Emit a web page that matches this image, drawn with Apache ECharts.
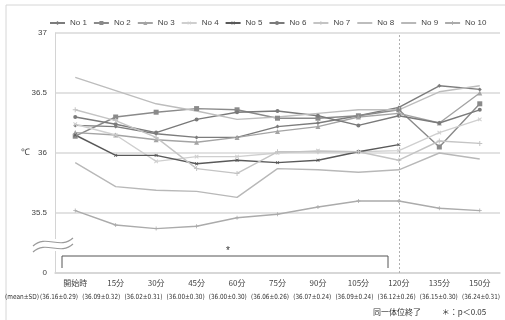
<!DOCTYPE html>
<html>
<head>
<meta charset="utf-8">
<script src="https://cdn.jsdelivr.net/npm/echarts@6/dist/echarts.min.js"></script>
<style>
  html, body { margin: 0; padding: 0; background: #fff; }
  #chart { width: 505px; height: 320px; }
</style>
</head>
<body>
<div id="chart"></div>
<script>
// time points
const categories = ['開始時', '15分', '30分', '45分', '60分', '75分', '90分', '105分', '120分', '135分', '150分']
const meanSD = ['(36.16±0.29)', '(36.09±0.32)', '(36.02±0.31)', '(36.00±0.30)', '(36.00±0.30)', '(36.06±0.26)',
  '(36.07±0.24)', '(36.09±0.24)', '(36.12±0.26)', '(36.15±0.30)', '(36.24±0.31)']

// body temperature per subject
const no1 = [36.23, 36.22, 36.16, 36.13, 36.13, 36.22, 36.25, 36.31, 36.38, 36.56, 36.53]
const no2 = [36.14, 36.30, 36.34, 36.37, 36.36, 36.29, 36.29, 36.31, 36.36, 36.05, 36.41]
const no3 = [36.17, 36.15, 36.11, 36.09, 36.13, 36.18, 36.22, 36.30, 36.33, 36.25, 36.50]
const no4 = [36.24, 36.15, 35.93, 35.97, 35.97, 36.00, 36.02, 36.01, 36.02, 36.17, 36.28]
const no5 = [36.15, 35.98, 35.98, 35.91, 35.94, 35.92, 35.94, 36.01, 36.07, null, null]
const no6 = [36.30, 36.24, 36.17, 36.28, 36.34, 36.35, 36.31, 36.23, 36.31, 36.25, 36.36]
const no7 = [36.36, 36.27, 36.13, 35.87, 35.83, 36.01, 36.01, 36.01, 35.94, 36.10, 36.08]
const no8 = [36.63, 36.52, 36.41, 36.35, 36.28, 36.30, 36.33, 36.36, 36.36, 36.51, 36.56]
const no9 = [35.92, 35.72, 35.69, 35.68, 35.63, 35.87, 35.86, 35.84, 35.86, 36.00, 35.95]
const no10 = [35.52, 35.40, 35.37, 35.39, 35.46, 35.49, 35.55, 35.60, 35.60, 35.54, 35.52]

const yTicks = [35, 35.5, 36, 36.5, 37]

const plus = 'path://M4,0h2v10h-2z M0,4h10v2h-10z'

const seriesDefs = [
  { name: 'No 1', data: no1, color: '#7c7c7c', symbol: 'diamond', size: 4 },
  { name: 'No 2', data: no2, color: '#8a8a8a', symbol: 'rect', size: 5 },
  { name: 'No 3', data: no3, color: '#a4a4a4', symbol: 'triangle', size: 5 },
  { name: 'No 4', data: no4, color: '#cfcfcf', symbol: plus, size: 5, rotate: 45 },
  { name: 'No 5', data: no5, color: '#595959', symbol: plus, size: 4, rotate: 45 },
  { name: 'No 6', data: no6, color: '#7a7a7a', symbol: 'circle', size: 4 },
  { name: 'No 7', data: no7, color: '#c4c4c4', symbol: plus, size: 5 },
  { name: 'No 8', data: no8, color: '#bdbdbd', symbol: 'none', size: 0 },
  { name: 'No 9', data: no9, color: '#b8b8b8', symbol: 'none', size: 0 },
  { name: 'No 10', data: no10, color: '#ababab', symbol: plus, size: 4 }
]

const chart = echarts.init(document.getElementById('chart'), null, { renderer: 'canvas' })

const series = seriesDefs.map((s, i) => {
  const item = {
    name: s.name,
    type: 'line',
    data: s.data,
    symbol: s.symbol,
    symbolSize: s.size,
    symbolRotate: s.rotate || 0,
    showSymbol: s.symbol !== 'none',
    connectNulls: false,
    animation: false,
    lineStyle: { color: s.color, width: 1.4 },
    itemStyle: { color: s.color }
  }
  if (i === 0) {
    item.markLine = {
      silent: true,
      symbol: 'none',
      label: { show: false },
      lineStyle: { color: '#b0b0b0', type: [2, 2], width: 1 },
      data: [{ xAxis: '120分' }]
    }
  }
  return item
})

// fit the mean row text into its slot
const ctx = document.createElement('canvas').getContext('2d')
const narrow = '"Liberation Sans Narrow", "DejaVu Sans Condensed", "Liberation Sans", sans-serif'
ctx.font = '7px ' + narrow
const meanTexts = meanSD.map((t, i) => {
  const w = ctx.measureText(t).width
  return {
    type: 'text',
    x: 59 + i * 42.2,
    y: 297,
    scaleX: Math.min(1.2, 38 / w),
    style: { text: t, fontSize: 7, fontFamily: narrow, fill: '#333', align: 'center', verticalAlign: 'middle' }
  }
})
const msW = ctx.measureText('(mean±SD)').width
meanTexts.push({
  type: 'text', x: 22, y: 297, scaleX: Math.min(1.2, 34 / msW),
  style: { text: '(mean±SD)', fontSize: 7, fontFamily: narrow, fill: '#333', align: 'center', verticalAlign: 'middle' }
})

const option = {
  backgroundColor: '#fff',
  animation: false,
  textStyle: { fontFamily: '"Noto Sans CJK JP", "Liberation Sans", sans-serif' },
  legend: {
    top: 14,
    left: 44,
    itemWidth: 15,
    itemHeight: 5,
    itemGap: 6,
    textStyle: { fontSize: 8, color: '#444', fontFamily: '"Liberation Sans", sans-serif' },
    data: seriesDefs.map(s => (s.symbol === 'none'
      ? { name: s.name, itemStyle: { opacity: 0 } }
      : s.name))
  },
  grid: { left: 55, right: 5, top: 33, height: 240 },
  xAxis: {
    type: 'category',
    data: categories,
    boundaryGap: true,
    axisLine: { lineStyle: { color: '#d4d4d4', width: 1.5 } },
    axisTick: { show: false },
    axisLabel: { fontSize: 8, color: '#444', margin: 6, interval: 0 }
  },
  yAxis: {
    type: 'value',
    min: 35,
    max: 37,
    interval: 0.5,
    axisLine: { show: true, lineStyle: { color: '#d4d4d4', width: 1 } },
    axisTick: { show: false },
    axisLabel: {
      fontSize: 8,
      color: '#444',
      margin: 8,
      fontFamily: '"Liberation Sans", sans-serif',
      formatter: v => (v === yTicks[0] ? '0' : String(v))
    },
    splitLine: { lineStyle: { color: '#d9d9d9', width: 1.5 } }
  },
  series: series,
  graphic: [
    { type: 'rect', shape: { x: 6, y: 5, width: 520, height: 340 }, style: { fill: 'none', stroke: '#d6d6d6', lineWidth: 1 }, silent: true },
    { type: 'text', x: 25, y: 153, style: { text: '℃', fontSize: 9, fill: '#444', align: 'center', verticalAlign: 'middle' } },
    // axis break
    { type: 'rect', shape: { x: 48, y: 239, width: 14, height: 12 }, style: { fill: '#fff' }, z: 10 },
    { type: 'bezierCurve', shape: { x1: 33, y1: 246, cpx1: 46, cpy1: 234, cpx2: 60, cpy2: 250, x2: 73, y2: 238 }, style: { stroke: '#9a9a9a', lineWidth: 1.2, fill: 'none' }, z: 11 },
    { type: 'bezierCurve', shape: { x1: 33, y1: 252, cpx1: 46, cpy1: 240, cpx2: 60, cpy2: 256, x2: 73, y2: 244 }, style: { stroke: '#9a9a9a', lineWidth: 1.2, fill: 'none' }, z: 11 },
    // significance bracket
    { type: 'polyline', shape: { points: [[62, 268], [62, 256], [388, 256], [388, 268]] }, style: { stroke: '#555', lineWidth: 1, fill: 'none' }, z: 11 },
    { type: 'text', x: 228, y: 251, style: { text: '*', fontSize: 10, fill: '#333', align: 'center', verticalAlign: 'middle' }, z: 11 },
    ...meanTexts,
    { type: 'text', x: 397, y: 312, style: { text: '同一体位終了', fontSize: 8, fill: '#333', align: 'center', verticalAlign: 'middle', fontFamily: '"Noto Sans CJK JP", sans-serif' } },
    { type: 'text', x: 464, y: 312, style: { text: '＊：p＜0.05', fontSize: 8, fill: '#333', align: 'center', verticalAlign: 'middle', fontFamily: '"Noto Sans CJK JP", sans-serif' } }
  ]
}

chart.setOption(option)
</script>
</body>
</html>
